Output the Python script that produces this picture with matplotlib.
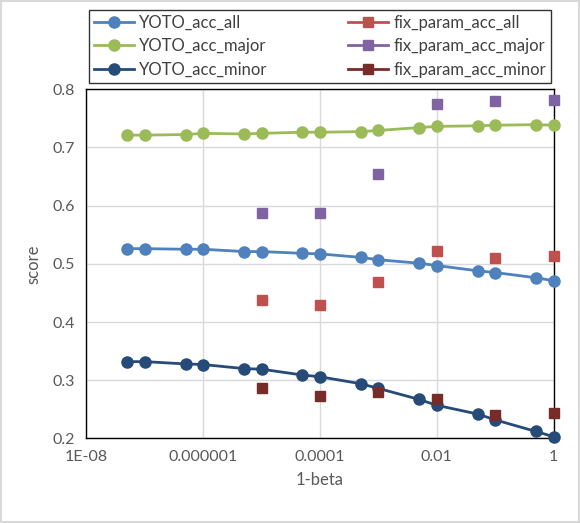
import matplotlib.pyplot as plt
import matplotlib.patches as patches
from matplotlib.lines import Line2D

plt.rcParams['font.family'] = ['Lato', 'DejaVu Sans']

# data
yoto_beta = [5e-8, 1e-7, 5e-7, 1e-6, 5e-6, 1e-5, 5e-5, 1e-4,
             5e-4, 1e-3, 5e-3, 1e-2, 5e-2, 1e-1, 5e-1, 1]
yoto_all = [0.526, 0.526, 0.525, 0.525, 0.521, 0.521, 0.518, 0.517,
            0.511, 0.507, 0.501, 0.497, 0.488, 0.485, 0.476, 0.471]
yoto_major = [0.721, 0.721, 0.722, 0.724, 0.723, 0.724, 0.726, 0.726,
              0.727, 0.729, 0.734, 0.736, 0.737, 0.738, 0.739, 0.738]
yoto_minor = [0.332, 0.332, 0.328, 0.327, 0.320, 0.319, 0.309, 0.306,
              0.294, 0.286, 0.267, 0.257, 0.242, 0.232, 0.212, 0.203]

fix_beta = [1e-5, 1e-4, 1e-3, 1e-2, 1e-1, 1]
fix_all = [0.437, 0.430, 0.468, 0.522, 0.510, 0.513]
fix_major = [0.587, 0.587, 0.655, 0.774, 0.779, 0.782]
fix_minor = [0.287, 0.273, 0.280, 0.268, 0.240, 0.244]

x_ticks = [1e-8, 1e-6, 1e-4, 1e-2, 1]
x_tick_labels = ['1E-08', '0.000001', '0.0001', '0.01', '1']
y_ticks = [0.2, 0.3, 0.4, 0.5, 0.6, 0.7, 0.8]

fig = plt.figure(figsize=(5.8, 5.23), dpi=100)
fig.patches.append(patches.Rectangle((0.002, 0.002), 0.996, 0.996, transform=fig.transFigure,
                                     fill=False, edgecolor='#d9d9d9', linewidth=1.5))
ax = fig.add_axes([0.149, 0.1616, 0.8055, 0.668])

lw = 2.0
ms = 8.0
sq = 7.5
ax.plot(yoto_beta, yoto_all, '-o', color='#4F81BD', lw=lw, ms=ms, clip_on=False, zorder=3)
ax.plot(fix_beta, fix_all, 's', color='#C0504D', ms=sq, clip_on=False, zorder=4)
ax.plot(yoto_beta, yoto_major, '-o', color='#9BBB59', lw=lw, ms=ms, clip_on=False, zorder=3)
ax.plot(fix_beta, fix_major, 's', color='#8064A2', ms=sq, clip_on=False, zorder=4)
ax.plot(yoto_beta, yoto_minor, '-o', color='#264B78', lw=lw, ms=ms, clip_on=False, zorder=3)
ax.plot(fix_beta, fix_minor, 's', color='#772C2A', ms=sq, clip_on=False, zorder=4)

ax.set_xscale('log')
ax.set_xlim(1e-8, 1)
ax.set_ylim(0.2, 0.8)
ax.set_xticks(x_ticks)
ax.set_xticklabels(x_tick_labels)
ax.minorticks_off()
ax.set_yticks(y_ticks)
ax.set_yticklabels([f'{v:.1f}' for v in y_ticks])
ax.tick_params(length=0, labelsize=11.5, colors='#595959', pad=8)
ax.grid(True, color='#d9d9d9', linewidth=1.0)
ax.set_axisbelow(True)
for s in ax.spines.values():
    s.set_color('black')
    s.set_linewidth(1.0)

ax.set_xlabel('1-beta', fontsize=12, color='#595959', labelpad=6)
ax.set_ylabel('score', fontsize=12, color='#595959', labelpad=8)

# legend, line through each marker like the original
handles = [
    Line2D([], [], color='#4F81BD', lw=lw, marker='o', ms=ms),
    Line2D([], [], color='#9BBB59', lw=lw, marker='o', ms=ms),
    Line2D([], [], color='#264B78', lw=lw, marker='o', ms=ms),
    Line2D([], [], color='#C0504D', lw=lw, marker='s', ms=sq),
    Line2D([], [], color='#8064A2', lw=lw, marker='s', ms=sq),
    Line2D([], [], color='#772C2A', lw=lw, marker='s', ms=sq),
]
labels = ['YOTO_acc_all', 'YOTO_acc_major', 'YOTO_acc_minor',
          'fix_param_acc_all', 'fix_param_acc_major', 'fix_param_acc_minor']
leg = fig.legend(handles, labels, ncol=2, loc='center', mode='expand',
                 bbox_to_anchor=(0.153, 0.839, 0.797, 0.146),
                 bbox_transform=fig.transFigure, fontsize=12, frameon=True,
                 fancybox=False, handlelength=2.4, handletextpad=0.3,
                 labelspacing=0.45, borderpad=0.3, borderaxespad=0,
                 columnspacing=1.0)
leg.get_frame().set_edgecolor('black')
leg.get_frame().set_linewidth(1.0)
for t in leg.get_texts():
    t.set_color('#404040')

fig.savefig('out.png', dpi=100)
